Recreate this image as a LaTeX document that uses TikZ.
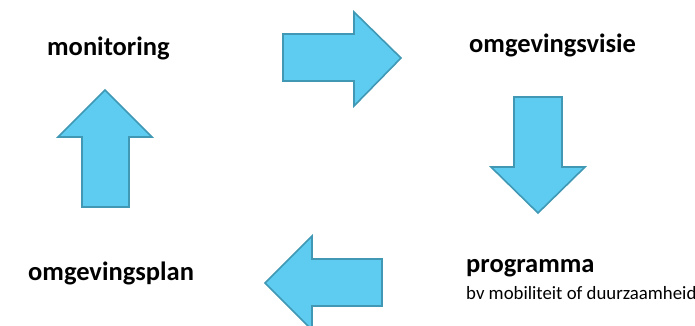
\documentclass[tikz,border=0pt]{standalone}
\usepackage{fontspec}
\setmainfont{Carlito}
\usepackage{xcolor}

\definecolor{pijlblauw}{RGB}{93,204,240}
\definecolor{pijlrand}{RGB}{64,152,180}

\begin{document}
\begin{tikzpicture}[x=1pt,y=-1pt,
    pijl/.style={fill=pijlblauw, draw=pijlrand, line width=1.6pt, line join=miter},
    stap/.style={anchor=base west, inner sep=0pt, font=\fontsize{26.5}{31}\selectfont\bfseries},
    uitleg/.style={anchor=base west, inner sep=0pt, font=\fontsize{18.8}{22}\selectfont}]
            \useasboundingbox (0,0) rectangle (695,325);

            % de vier stappen
            \node[stap]   (monitoring) at (47,55)   {monitoring};
            \node[stap]   (visie)      at (469,52)  {omgevingsvisie};
            \node[stap]   (programma)  at (466,272) {programma};
            \node[uitleg] (voorbeeld)  at (466,299) {bv mobiliteit of duurzaamheid};
            \node[stap]   (plan)       at (28,280)  {omgevingsplan};

            % de pijlen van de cyclus
            \draw[pijl] (283,34) -- (354,34) -- (354,12) -- (401,58) -- (354,106) -- (354,81) -- (283,81) -- cycle;
            \draw[pijl] (514,97) -- (562,97) -- (562,167) -- (585,167) -- (538,213) -- (491,167) -- (514,167) -- cycle;
            \draw[pijl] (382,259) -- (312,259) -- (312,236) -- (265,283) -- (312,330) -- (312,306) -- (382,306) -- cycle;
            \draw[pijl] (82,207) -- (82,137) -- (58,137) -- (105,90) -- (152,137) -- (129,137) -- (129,207) -- cycle;
        \end{tikzpicture}
\end{document}
